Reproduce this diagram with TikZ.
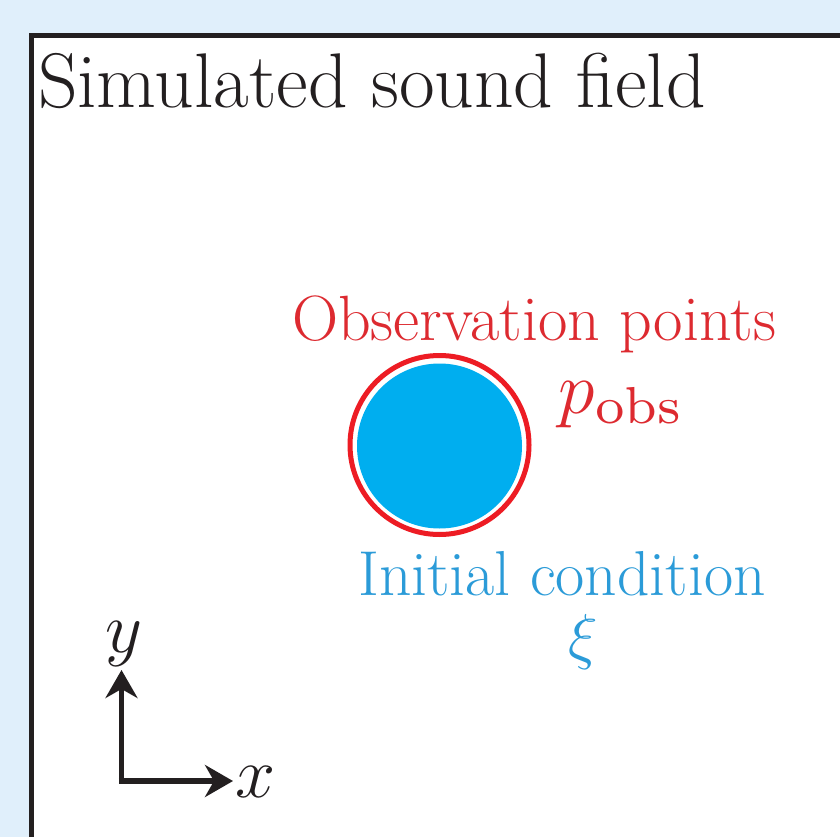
\RequirePackage{fix-cm}
\documentclass[tikz,border=0pt]{standalone}
\usetikzlibrary{arrows.meta}
\definecolor{bgblue}{HTML}{E0EFFB}
\definecolor{framek}{HTML}{231F20}
\definecolor{ringred}{HTML}{ED1C24}
\definecolor{fillcyan}{HTML}{00AEEF}
\definecolor{txtred}{HTML}{DD2A30}
\definecolor{txtblue}{HTML}{2B9BD8}
\font\obsfont=cmr7 at 52pt
\tikzset{
  axisarrow/.style={line width=5.5pt, draw=framek, -{Stealth[length=28pt,width=32pt,inset=9pt]}},
  lbl/.style={inner sep=0pt, outer sep=0pt},
}
\begin{document}
\begin{tikzpicture}[x=1pt,y=-1pt]
\useasboundingbox (0,0) rectangle (840,837);
\fill[bgblue] (0,0) rectangle (840,837);
\draw[line width=5pt, draw=framek, fill=white] (31,36) rectangle (900,900);
\node[lbl, anchor=base west, text=framek] (title) at (38,108) {\fontsize{77.5}{84}\selectfont Simulated sound field};
% circles
\fill[fillcyan] (439.5,446) circle (82.5);
\node[circle, draw=ringred, line width=5pt, minimum size=179pt, inner sep=0pt] (ring) at (439.5,445) {};
\node[lbl, anchor=base, text=txtred] (obs) at (534,340) {\fontsize{64}{72}\selectfont Observation points};
\node[lbl, anchor=base west, text=txtred] (pobs) at (558,413) {\fontsize{74}{80}\selectfont $p$\kern1pt\raisebox{-10pt}{\obsfont obs}};
\node[lbl, anchor=base, text=txtblue] (init) at (562,595) {\fontsize{63.5}{70}\selectfont Initial condition};
\node[lbl, anchor=base, text=txtblue] (xi) at (583,657) {\fontsize{62}{70}\selectfont $\xi$};
% axes
\coordinate (o) at (121.5,781);
\coordinate (ytip) at (121.5,670);
\coordinate (xtip) at (233,781);
\draw[axisarrow] ([yshift=2.75pt]o) -- (ytip);
\draw[axisarrow] ([xshift=-2.75pt]o) -- (xtip);
\node[lbl, anchor=base, text=framek] (ylab) at (124,652) {\fontsize{72}{80}\selectfont $y$};
\node[lbl, anchor=base, text=framek] (xlab) at (256,797) {\fontsize{72}{80}\selectfont $x$};
\end{tikzpicture}
\end{document}
